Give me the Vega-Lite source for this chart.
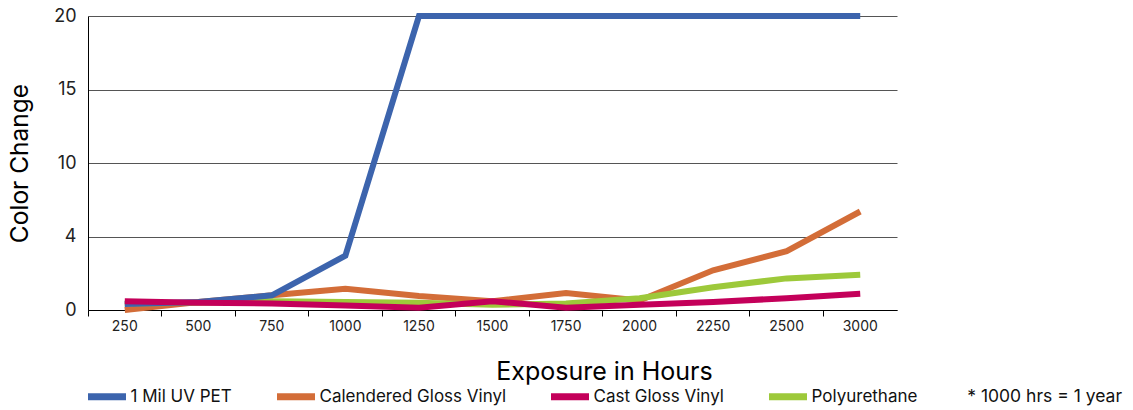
{
  "$schema": "https://vega.github.io/schema/vega-lite/v6.json",
  "width": 809,
  "height": 294,
  "autosize": "none",
  "padding": {"left": 88, "top": 16, "right": 236, "bottom": 100},
  "background": "white",
  "config": {"font": "Inter", "view": {"stroke": null}},
  "title": {"text": "* 1000 hrs = 1 year", "orient": "bottom", "anchor": "end", "frame": "group", "fontSize": 17.5, "fontWeight": "normal", "color": "#111", "dx": 225, "dy": -23, "offset": 0, "baseline": "top"},
  "data": {"values": [
    {"hours": "250", "series": "Calendered Gloss Vinyl", "value": 0},
    {"hours": "500", "series": "Calendered Gloss Vinyl", "value": 0.55},
    {"hours": "750", "series": "Calendered Gloss Vinyl", "value": 1.0},
    {"hours": "1000", "series": "Calendered Gloss Vinyl", "value": 1.45},
    {"hours": "1250", "series": "Calendered Gloss Vinyl", "value": 0.95},
    {"hours": "1500", "series": "Calendered Gloss Vinyl", "value": 0.6},
    {"hours": "1750", "series": "Calendered Gloss Vinyl", "value": 1.15},
    {"hours": "2000", "series": "Calendered Gloss Vinyl", "value": 0.65},
    {"hours": "2250", "series": "Calendered Gloss Vinyl", "value": 2.7},
    {"hours": "2500", "series": "Calendered Gloss Vinyl", "value": 4.0},
    {"hours": "3000", "series": "Calendered Gloss Vinyl", "value": 6.7},
    {"hours": "250", "series": "Polyurethane", "value": 0.45},
    {"hours": "500", "series": "Polyurethane", "value": 0.5},
    {"hours": "750", "series": "Polyurethane", "value": 0.6},
    {"hours": "1000", "series": "Polyurethane", "value": 0.55},
    {"hours": "1250", "series": "Polyurethane", "value": 0.5},
    {"hours": "1500", "series": "Polyurethane", "value": 0.35},
    {"hours": "1750", "series": "Polyurethane", "value": 0.45},
    {"hours": "2000", "series": "Polyurethane", "value": 0.8},
    {"hours": "2250", "series": "Polyurethane", "value": 1.55},
    {"hours": "2500", "series": "Polyurethane", "value": 2.15},
    {"hours": "3000", "series": "Polyurethane", "value": 2.4},
    {"hours": "250", "series": "1 Mil UV PET", "value": 0.4},
    {"hours": "500", "series": "1 Mil UV PET", "value": 0.55},
    {"hours": "750", "series": "1 Mil UV PET", "value": 1.0},
    {"hours": "1000", "series": "1 Mil UV PET", "value": 3.7},
    {"hours": "1250", "series": "1 Mil UV PET", "value": 20},
    {"hours": "1500", "series": "1 Mil UV PET", "value": 20},
    {"hours": "1750", "series": "1 Mil UV PET", "value": 20},
    {"hours": "2000", "series": "1 Mil UV PET", "value": 20},
    {"hours": "2250", "series": "1 Mil UV PET", "value": 20},
    {"hours": "2500", "series": "1 Mil UV PET", "value": 20},
    {"hours": "3000", "series": "1 Mil UV PET", "value": 20},
    {"hours": "250", "series": "Cast Gloss Vinyl", "value": 0.6},
    {"hours": "500", "series": "Cast Gloss Vinyl", "value": 0.5},
    {"hours": "750", "series": "Cast Gloss Vinyl", "value": 0.45},
    {"hours": "1000", "series": "Cast Gloss Vinyl", "value": 0.3},
    {"hours": "1250", "series": "Cast Gloss Vinyl", "value": 0.15},
    {"hours": "1500", "series": "Cast Gloss Vinyl", "value": 0.6},
    {"hours": "1750", "series": "Cast Gloss Vinyl", "value": 0.15},
    {"hours": "2000", "series": "Cast Gloss Vinyl", "value": 0.35},
    {"hours": "2250", "series": "Cast Gloss Vinyl", "value": 0.55},
    {"hours": "2500", "series": "Cast Gloss Vinyl", "value": 0.8},
    {"hours": "3000", "series": "Cast Gloss Vinyl", "value": 1.1}
  ]},
  "mark": {"type": "line", "strokeWidth": 6, "strokeCap": "butt", "strokeJoin": "miter"},
  "encoding": {
    "x": {
      "field": "hours", "type": "ordinal",
      "sort": ["250","500","750","1000","1250","1500","1750","2000","2250","2500","3000"],
      "scale": {"type": "band", "paddingInner": 0, "paddingOuter": 0},
      "axis": {
        "bandPosition": 0, "labelAngle": 0, "labelFontSize": 14, "labelColor": "#222",
        "labelPadding": 3, "tickSize": 6, "tickColor": "#000", "domainColor": "#000",
        "grid": false, "title": "Exposure in Hours", "titleFontSize": 25,
        "titleFontWeight": "normal", "titleColor": "#000", "titleX": 516, "titleY": 69,
        "titleBaseline": "alphabetic"
      }
    },
    "y": {
      "field": "value", "type": "quantitative",
      "scale": {"domain": [0, 20], "nice": false},
      "axis": {
        "values": [0, 5, 10, 15, 20],
        "labelExpr": "datum.value == 5 ? '4' : datum.label",
        "labelFontSize": 18, "labelColor": "#222", "labelPadding": 12, "ticks": false,
        "domainColor": "#000", "gridColor": "#555", "gridOpacity": 1, "gridWidth": 1,
        "title": "Color Change", "titleFontSize": 24.5, "titleFontWeight": "normal",
        "titleColor": "#000", "titleX": -68, "titleBaseline": "middle"
      }
    },
    "color": {
      "field": "series", "type": "nominal",
      "scale": {
        "domain": ["1 Mil UV PET", "Calendered Gloss Vinyl", "Cast Gloss Vinyl", "Polyurethane"],
        "range": ["#3c64ad", "#d36d38", "#c4005a", "#9dc93a"]
      },
      "legend": {
        "orient": "none", "legendX": -3.5, "legendY": 358, "direction": "horizontal",
        "title": null, "symbolType": "stroke", "symbolSize": 1444, "symbolStrokeWidth": 7,
        "labelFontSize": 17, "labelColor": "#111", "labelOffset": 1, "columnPadding": 30,
        "padding": 0, "labelLimit": 400
      }
    }
  }
}
